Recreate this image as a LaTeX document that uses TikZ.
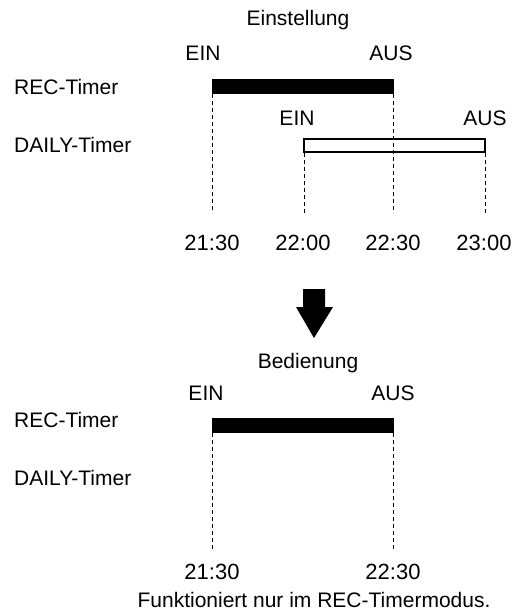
\documentclass[tikz,border=0pt]{standalone}
\usepackage{fontspec}
\setmainfont{Liberation Sans}
\begin{document}
\begin{tikzpicture}[x=1pt,y=-1pt,
  lbl/.style={inner sep=0pt,font=\fontsize{21}{24}\selectfont},
  lft/.style={lbl,anchor=west},
  tm/.style={lbl,font=\fontsize{22}{26}\selectfont},
  guide/.style={line width=0.9pt,dash pattern=on 4pt off 3pt},
  recbar/.style={fill=black},
  dailybar/.style={draw=black,fill=white,line width=2pt}]
\useasboundingbox (0,0) rectangle (513,614);
% ---- top: Einstellung
\node[lbl] (t1) at (298,20) {Einstellung};
\node[lbl] (ein1) at (203,53) {EIN};
\node[lbl] (aus1) at (391,53) {AUS};
\node[lft] (rec1) at (14,87) {REC-Timer};
\node[lft] (daily1) at (14,145) {DAILY-Timer};
\node[lbl] (ein2) at (297,118) {EIN};
\node[lbl] (aus2) at (485,118) {AUS};
\fill[recbar] (212,79) rectangle (394,94);
\draw[dailybar] (304,139) rectangle (485,152);
\coordinate (a1) at (212,94);  \coordinate (a1e) at (212,213);
\coordinate (b1) at (393,94);  \coordinate (b1e) at (393,213);
\coordinate (c1) at (304,153); \coordinate (c1e) at (304,213);
\coordinate (d1) at (485,153); \coordinate (d1e) at (485,213);
\draw[guide] (a1) -- (a1e);
\draw[guide] (b1) -- (b1e);
\draw[guide] (c1) -- (c1e);
\draw[guide] (d1) -- (d1e);
\node[tm] (h1) at (212,243) {21:30};
\node[tm] (h2) at (303,243) {22:00};
\node[tm] (h3) at (393,243) {22:30};
\node[tm] (h4) at (484,243) {23:00};
% ---- arrow
\fill (303,289) -- (325,289) -- (325,307) -- (333,307) -- (314,338) -- (296,307) -- (303,307) -- cycle;
% ---- bottom: Bedienung
\node[lbl] (t2) at (308,363) {Bedienung};
\node[lbl] (ein3) at (206,393) {EIN};
\node[lbl] (aus3) at (393,393) {AUS};
\node[lft] (rec2) at (14,420) {REC-Timer};
\node[lft] (daily2) at (14,478) {DAILY-Timer};
\fill[recbar] (212,418) rectangle (394,433);
\coordinate (a2) at (212,433); \coordinate (a2e) at (212,550);
\coordinate (b2) at (393,433); \coordinate (b2e) at (393,550);
\draw[guide] (a2) -- (a2e);
\draw[guide] (b2) -- (b2e);
\node[tm] (h5) at (212,572) {21:30};
\node[tm] (h6) at (393,572) {22:30};
\node[lbl] (note) at (314,600) {Funktioniert nur im REC-Timermodus.};
\end{tikzpicture}
\end{document}
